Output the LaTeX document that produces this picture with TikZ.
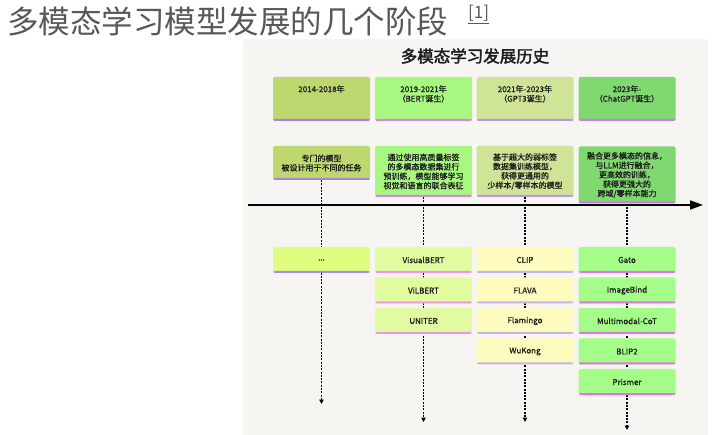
\documentclass[tikz,border=0pt]{standalone}
\usepackage{fontspec}
\setmainfont{Noto Sans CJK SC}
\newfontfamily\cjkb[FakeBold=2.2]{Noto Sans CJK SC}
\newfontfamily\boxf[FakeBold=1.0]{Noto Sans CJK SC}
\usetikzlibrary{arrows.meta,backgrounds}
\definecolor{panelbg}{RGB}{246,245,241}
\definecolor{txt}{RGB}{30,30,30}
\definecolor{ttl}{RGB}{88,88,88}
\definecolor{hA}{RGB}{190,216,112}
\definecolor{hB}{RGB}{167,247,129}
\definecolor{hC}{RGB}{208,228,152}
\definecolor{hD}{RGB}{128,217,112}
\definecolor{sA}{RGB}{165,130,225}
\definecolor{sB}{RGB}{215,135,230}
\definecolor{sC}{RGB}{185,150,230}
\definecolor{sD}{RGB}{210,120,230}
\definecolor{lA}{RGB}{224,253,127}
\definecolor{lB}{RGB}{225,252,160}
\definecolor{lC}{RGB}{253,251,190}
\definecolor{lD}{RGB}{163,253,136}
\definecolor{tA}{RGB}{170,140,240}
\definecolor{tB}{RGB}{240,150,230}
\definecolor{tC}{RGB}{195,180,240}
\definecolor{tD}{RGB}{225,115,230}
\begin{document}
\begin{tikzpicture}[x=1pt,y=-1pt,
  box/.style={draw=none,rounded corners=1.5pt,minimum width=97pt,inner sep=2pt,
    align=center,font=\boxf\fontsize{8}{9.4}\selectfont,text=txt},
  bar/.style={path picture={\fill[#1] ([yshift=2pt]path picture bounding box.south west) rectangle (path picture bounding box.south east);}},
  hdr/.style={box,minimum height=44pt},
  lowbox/.style={box,minimum height=26pt},
  every label/.style={font=\boxf\fontsize{8}{9.6}\selectfont,text=txt,align=center},
  dotline/.style={line width=1.3pt,dash pattern=on 2pt off 1.3pt,-{Triangle[width=4.5pt,length=4.5pt]}},
  timeline/.style={line width=1.8pt,-{Triangle[width=9pt,length=13pt]}}
]
\useasboundingbox (0,0) rectangle (720,435);

\node[anchor=west,inner sep=0,text=ttl,font=\fontsize{31.5}{34}\selectfont] (title) at (7,21) {多模态学习模型发展的几个阶段};
\node[anchor=north west,inner sep=0,text=ttl,font=\fontsize{17}{18}\selectfont] (ref) at (468,5) {\underline{[1]}};

\node[text=txt,font=\cjkb\fontsize{16.5}{18}\selectfont,inner sep=0] (ptitle) at (475,56) {多模态学习发展历史};

% header boxes
\node[hdr,fill=hA,bar=sA,label={[anchor=north,yshift=-5pt]north:2014-2018年}] (h1) at (321.5,99) {};
\node[hdr,fill=hB,bar=sB,label={[anchor=north,yshift=-5pt]north:2019-2021年\\（BERT诞生）}] (h2) at (423.5,99) {};
\node[hdr,fill=hC,bar=sC,label={[anchor=north,yshift=-5pt]north:2021年-2023年\\（GPT3诞生）}] (h3) at (525,99) {};
\node[hdr,fill=hD,bar=sD,label={[anchor=north,yshift=-5pt]north:2023年-\\（ChatGPT诞生）}] (h4) at (627,99) {};

% description boxes
\node[box,fill=hA,bar=sA,minimum height=34pt] (d1) at (321.5,163) {专门的模型\\被设计用于不同的任务};
\node[box,fill=hB,bar=sB,minimum height=51pt] (d2) at (423.5,171.5) {通过使用高质量标签\\的多模态数据集进行\\预训练，模型能够学习\\视觉和语言的联合表征};
\node[box,fill=hC,bar=sC,minimum height=51pt] (d3) at (525,171.5) {基于超大的弱标签\\数据集训练模型，\\获得更通用的\\少样本/零样本的模型};
\node[box,fill=hD,bar=sD,minimum height=57pt] (d4) at (627,175) {融合更多模态的信息，\\与LLM进行融合，\\更高效的训练，\\获得更强大的\\跨域/零样本能力};

% lower boxes
\node[lowbox,fill=lA,bar=tA] (a1) at (321.5,260) {...};

\node[lowbox,fill=lB,bar=tB] (b1) at (423.5,260) {VisualBERT};
\node[lowbox,fill=lB,bar=tB] (b2) at (423.5,290.5) {ViLBERT};
\node[lowbox,fill=lB,bar=tB] (b3) at (423.5,321) {UNITER};

\node[lowbox,fill=lC,bar=tC] (c1) at (525,260) {CLIP};
\node[lowbox,fill=lC,bar=tC] (c2) at (525,290.5) {FLAVA};
\node[lowbox,fill=lC,bar=tC] (c3) at (525,321) {Flamingo};
\node[lowbox,fill=lC,bar=tC] (c4) at (525,351.5) {WuKong};

\node[lowbox,fill=lD,bar=tD] (g1) at (627,260) {Gato};
\node[lowbox,fill=lD,bar=tD] (g2) at (627,290.5) {ImageBind};
\node[lowbox,fill=lD,bar=tD] (g3) at (627,321) {Multimodal-CoT};
\node[lowbox,fill=lD,bar=tD] (g4) at (627,351.5) {BLIP2};
\node[lowbox,fill=lD,bar=tD] (g5) at (627,382) {Prismer};

\coordinate (e1) at (321.5,404);
\coordinate (e2) at (423.5,422);
\coordinate (e3) at (525,422);
\coordinate (e4) at (627,430);
\coordinate (ta) at (248,205);
\coordinate (tb) at (703,205);

\begin{pgfonlayer}{background}
  \fill[panelbg] (243,39) rectangle (708,435);
  \draw[dotline] (d1.south) -- (e1);
  \draw[dotline] (d2.south) -- (e2);
  \draw[dotline] (d3.south) -- (e3);
  \draw[dotline] (d4.south) -- (e4);
\end{pgfonlayer}

\draw[timeline] (ta) -- (tb);
\end{tikzpicture}
\end{document}
